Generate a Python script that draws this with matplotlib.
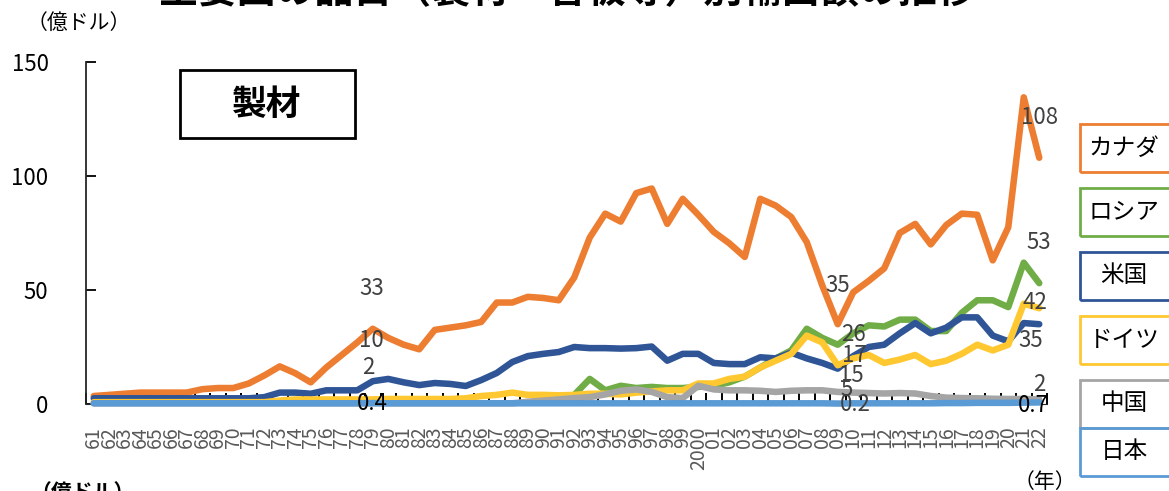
import numpy as np
import matplotlib
matplotlib.use("Agg")
import matplotlib.pyplot as plt
from matplotlib.patches import Rectangle

plt.rcParams['font.family'] = ['Noto Sans CJK JP', 'DejaVu Sans']

nan = np.nan
Years = list(range(1961, 2023))
YearLabels = ['2000' if y == 2000 else '%02d' % (y % 100) for y in Years]

# 億ドル, 1961..2022
Canada = [3.5, 4, 4.5, 5, 5, 5, 5, 6.5, 7, 7,
          9, 12.5, 16.5, 13.5, 9.5, 16, 21.5, 27, 33, 29,
          26, 24, 32.5, 33.5, 34.5, 36, 44.5, 44.5, 47, 46.5,
          45.5, 55.5, 73, 83.5, 80, 92.5, 94.5, 79, 90, 83,
          75.5, 70.5, 64.5, 90, 87, 82, 71, 52, 35, 49,
          54, 59.5, 75, 79, 70, 78.5, 83.5, 83, 63, 77.5,
          134.5, 108]
Russia = [nan, nan, nan, nan, nan, nan, nan, nan, nan, nan,
          nan, nan, nan, nan, nan, nan, nan, nan, nan, nan,
          nan, nan, nan, nan, nan, nan, nan, nan, nan, nan,
          nan, 4, 11, 6, 8, 7, 7.5, 7, 7, 7.5,
          8, 9.5, 12, 16, 20, 23.5, 33, 29, 26, 31,
          34.5, 34, 37, 37, 32, 32, 40, 45.5, 45.5, 42.5,
          62, 53]
USA = [2.5, 2.5, 2.5, 2.5, 2.5, 2.5, 2.5, 2.5, 2.5, 2.5,
       2.5, 3, 5, 5, 4.5, 6, 6, 6, 10, 11,
       9.5, 8.3, 9.2, 8.8, 7.9, 10.5, 13.6, 18.4, 21, 22,
       22.8, 25, 24.5, 24.5, 24.3, 24.5, 25.2, 19, 22, 22,
       18, 17.5, 17.5, 20.5, 20, 22.5, 20, 18, 15.5, 21,
       25, 26, 31, 35.5, 31, 33.5, 38, 38, 30, 27.5,
       35.5, 35]
Germany = [0.8, 0.8, 0.8, 0.8, 0.8, 0.8, 0.8, 0.8, 0.8, 0.8,
           0.8, 0.8, 1.5, 2, 2, 2, 2, 2, 2, 2.2,
           2.2, 2.2, 2.2, 2.2, 2.5, 3.5, 4, 5, 4, 4,
           3.8, 4, 4.5, 4.5, 4.2, 5, 5.5, 6, 6, 9,
           9, 11, 12, 16, 19, 22, 30, 27, 17, 20,
           21.5, 18, 19.5, 21.5, 17.5, 19, 22, 26, 23.5, 26,
           44, 42]
China = [0.3, 0.3, 0.3, 0.3, 0.3, 0.3, 0.3, 0.3, 0.3, 0.3,
         0.3, 0.3, 0.3, 0.3, 0.3, 0.3, 0.3, 0.3, 0.3, 0.3,
         0.3, 0.3, 0.3, 0.3, 0.3, 0.3, 0.3, 0.3, 1, 1.5,
         2, 2.6, 3, 4.2, 5.8, 6.4, 5.3, 3, 2.6, 8,
         6.4, 6, 6, 5.8, 5.3, 5.8, 6, 6, 5.3, 5,
         4.8, 4.6, 4.8, 4.6, 3.5, 2.8, 2.6, 2.5, 2.3, 2.2,
         2.2, 2]
Japan = [0.3, 0.3, 0.3, 0.3, 0.3, 0.3, 0.3, 0.3, 0.3, 0.3,
         0.3, 0.3, 0.3, 0.3, 0.3, 0.3, 0.3, 0.3, 0.4, 0.3,
         0.3, 0.3, 0.3, 0.3, 0.3, 0.3, 0.3, 0.3, 0.3, 0.3,
         0.3, 0.3, 0.3, 0.3, 0.3, 0.3, 0.3, 0.3, 0.3, 0.3,
         0.3, 0.3, 0.3, 0.3, 0.3, 0.3, 0.3, 0.3, 0.2, 0.3,
         0.3, 0.3, 0.3, 0.3, 0.3, 0.4, 0.4, 0.5, 0.5, 0.5,
         0.6, 0.7]

Names = ['カナダ', 'ロシア', '米国', 'ドイツ', '中国', '日本']
Series = [Canada, Russia, USA, Germany, China, Japan]
Colors = ['#ED7D31', '#70AD47', '#2F5597', '#FFC831', '#A5A5A5', '#5B9BD5']

# data labels: series index, year, text, dx, dy (points), color
Labels = [(0, 1979, '33', -1, 29, '#404040'),
          (2, 1979, '10', -1, 29, '#404040'),
          (3, 1979, '2', -3, 23, '#404040'),
          (5, 1979, '0.4', 0, 0, '#000000'),
          (0, 2009, '35', 0, 28, '#404040'),
          (1, 2009, '26', 11, 7, '#404040'),
          (3, 2009, '17', 12, 7, '#404040'),
          (2, 2009, '15', 10, -5, '#404040'),
          (4, 2009, '5', 6, 2, '#404040'),
          (5, 2009, '0.2', 13, -1, '#404040'),
          (0, 2022, '108', 0, 29, '#404040'),
          (1, 2022, '53', 0, 29, '#404040'),
          (3, 2022, '42', -3, 4, '#404040'),
          (2, 2022, '35', -6, -12, '#404040'),
          (4, 2022, '2', 0, 11, '#404040'),
          (5, 2022, '0.7', -4, -2, '#000000')]

W, H = 1169, 491
fig = plt.figure(figsize=(W / 100, H / 100), dpi=100)
ax = fig.add_axes([86 / W, (H - 404) / H, 961 / W, 342 / H])

for vals, col in zip(Series, Colors):
    ax.plot(Years, vals, color=col, lw=4.7, solid_joinstyle='round',
            solid_capstyle='round', clip_on=False, zorder=3)

for si, yr, txt, dx, dy, col in Labels:
    ax.annotate(txt, xy=(yr, Series[si][Years.index(yr)]), xytext=(dx, dy),
                textcoords='offset points', ha='center', va='center',
                fontsize=16, color=col, zorder=4)

ax.set_xlim(1960.5, 2022.5)
ax.set_ylim(0, 150)
ax.set_xticks(Years)
ax.set_xticklabels(YearLabels, rotation=90, fontsize=14, color='#595959')
ax.set_xticks(np.arange(1960.5, 2023.5, 1), minor=True)
ax.tick_params(axis='x', which='major', length=0, pad=16)
ax.tick_params(axis='x', which='minor', direction='in', length=8, width=1.4, color='black')
ax.set_yticks([0, 50, 100, 150])
ax.tick_params(axis='y', direction='in', length=7, width=1.3, labelsize=16, pad=27)
for s in ['top', 'right']:
    ax.spines[s].set_visible(False)
ax.spines['left'].set_color('#262626')
ax.spines['left'].set_linewidth(1.3)
ax.spines['bottom'].set_color('#262626')

def px(x, y):
    return x / W, 1 - y / H

# title is cut at the top edge of the picture
fig.text(*px(567, 11), '主要国の品目（製材・合板等）別輸出額の推移', fontsize=28,
         fontweight='bold', ha='center', va='bottom')
fig.text(*px(79, 23), '（億ドル）', fontsize=15, ha='center', va='center')
fig.text(*px(1045, 482), '（年）', fontsize=15, ha='center', va='center')
fig.text(*px(30, 482), '（億ドル）', fontsize=15, ha='left', va='top', fontweight='bold')

# 製材 box
fig.add_artist(Rectangle(px(180, 138), 175 / W, 68 / H, transform=fig.transFigure,
                         fill=False, edgecolor='black', lw=2))
fig.text(*px(267, 104), '製材', fontsize=25, fontweight='bold', ha='center', va='center')

# legend boxes
BoxTops = [124, 188, 252, 316, 380, 428]
for name, col, top in zip(Names, Colors, BoxTops):
    fig.add_artist(Rectangle(px(1080, top + 48), 110 / W, 48 / H,
                             transform=fig.transFigure, fill=False,
                             edgecolor=col, lw=2))
    fig.text(*px(1124, top + 24), name, fontsize=17, ha='center', va='center')

fig.savefig('out.png', dpi=100)
